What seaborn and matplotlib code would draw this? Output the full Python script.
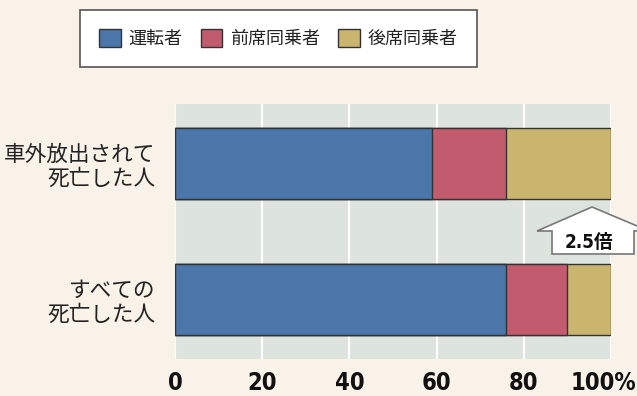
import matplotlib
matplotlib.use("Agg")
import matplotlib.pyplot as plt
from matplotlib import font_manager
from matplotlib.patches import Patch, Polygon
from matplotlib.transforms import offset_copy
import numpy as np
import pandas as pd
import seaborn as sns

# Share of deaths by seating position (%)
groups = ["車外放出されて\n死亡した人", "すべての\n死亡した人"]
positions = ["運転者", "前席同乗者", "後席同乗者"]
driver = [59, 76]
front = [17, 14]
rear = [24, 10]
colors = ["#4a76aa", "#c25b6e", "#c9b56d"]
xticks = [0, 20, 40, 60, 80, 100]
xticklabels = ["0", "20", "40", "60", "80", "100%"]
ratio_label = "2.5倍"

sns.set_theme(style="white")
plt.rcParams["font.family"] = ["Noto Sans CJK JP", "DejaVu Sans"]

# pick a narrow bold face for the numbers, if one is installed
fonts = font_manager.fontManager.ttflist
names = {f.name for f in fonts}
num_font = dict(family="DejaVu Sans", stretch="normal", size=14)
if "Liberation Sans Narrow" in names:
    num_font = dict(family="Liberation Sans Narrow", stretch="normal", size=18)
elif any(f.name == "DejaVu Sans" and str(f.stretch) in ("condensed", "semi-condensed")
         for f in fonts):
    num_font = dict(family="DejaVu Sans", stretch="condensed", size=17)

W, H = 637, 396
fig = plt.figure(figsize=(W / 100, H / 100), dpi=100, facecolor="#f8f2e8")
ax = fig.add_axes([175 / W, 1 - 359 / H, 436 / W, 255 / H])
ax.set_facecolor("#dde3dd")

df = pd.DataFrame({"group": groups, "driver": driver, "front": front, "rear": rear})
df["cum_front"] = df["driver"] + df["front"]
df["cum_rear"] = df["cum_front"] + df["rear"]

# stacked horizontal bars: draw cumulative totals from back to front
for col, c in [("cum_rear", colors[2]), ("cum_front", colors[1]), ("driver", colors[0])]:
    sns.barplot(data=df, x=col, y="group", order=groups, color=c, width=0.52,
                edgecolor="#333333", linewidth=1.0, ax=ax, zorder=3, saturation=1)

ax.set_xlim(0, 100)
ax.set_ylim(1.4375, -0.4375)
ax.set_xlabel("")
ax.set_ylabel("")
ax.set_xticks(xticks)
ax.set_xticklabels(xticklabels, fontfamily=num_font["family"],
                   fontstretch=num_font["stretch"], fontweight="bold",
                   fontsize=num_font["size"], color="#111111")
ax.tick_params(axis="x", length=0, pad=9)
# keep the last label inside the canvas: anchor it at its right edge
last = ax.get_xticklabels()[-1]
last.set_horizontalalignment("right")
last.set_transform(offset_copy(last.get_transform(), fig=fig, x=25, units="dots"))

ax.set_yticks(range(len(groups)))
ax.set_yticklabels(groups, fontsize=15.6, color="#222222", linespacing=1.1, ha="right")
ax.tick_params(axis="y", length=0, pad=14)
ax.set_yticks([0.5], minor=True)
ax.tick_params(axis="y", which="minor", length=10, direction="in", color="white", width=1.5)
ax.grid(axis="x", color="white", linewidth=1.5, zorder=1)
ax.set_axisbelow(True)
for s in ax.spines.values():
    s.set_visible(False)

# block arrow marking the rear-seat ratio
pts = np.array([[592, 207], [649, 231], [634, 231], [634, 254],
                [552, 254], [552, 231], [537, 231]], dtype=float)
pts[:, 0] /= W
pts[:, 1] = 1 - pts[:, 1] / H
fig.add_artist(Polygon(pts, closed=True, facecolor="white", edgecolor="#777777",
                       linewidth=1.2, transform=fig.transFigure, zorder=5))
fig.text(589 / W, 1 - 243 / H, ratio_label, ha="center", va="center",
         fontsize=num_font["size"] - 3.5, fontweight="bold", fontstretch=num_font["stretch"],
         family=[num_font["family"], "Noto Sans CJK JP"], color="#111111", zorder=6)

# legend
handles = [Patch(facecolor=c, edgecolor="#333333", linewidth=1.0) for c in colors]
leg = fig.legend(handles, positions, loc="upper left", ncol=3, mode="expand",
                 bbox_to_anchor=(80 / W, 1 - 10 / H - 0.01, 397 / W, 0.01),
                 bbox_transform=fig.transFigure, fontsize=13, frameon=True,
                 fancybox=False, framealpha=1, borderaxespad=0, borderpad=1.05,
                 handlelength=1.2, handleheight=1.2, handletextpad=0.45)
leg.get_frame().set_facecolor("white")
leg.get_frame().set_edgecolor("#555555")
leg.get_frame().set_linewidth(1.2)
for t in leg.get_texts():
    t.set_color("#222222")

fig.savefig("out.png", dpi=100, facecolor=fig.get_facecolor())
